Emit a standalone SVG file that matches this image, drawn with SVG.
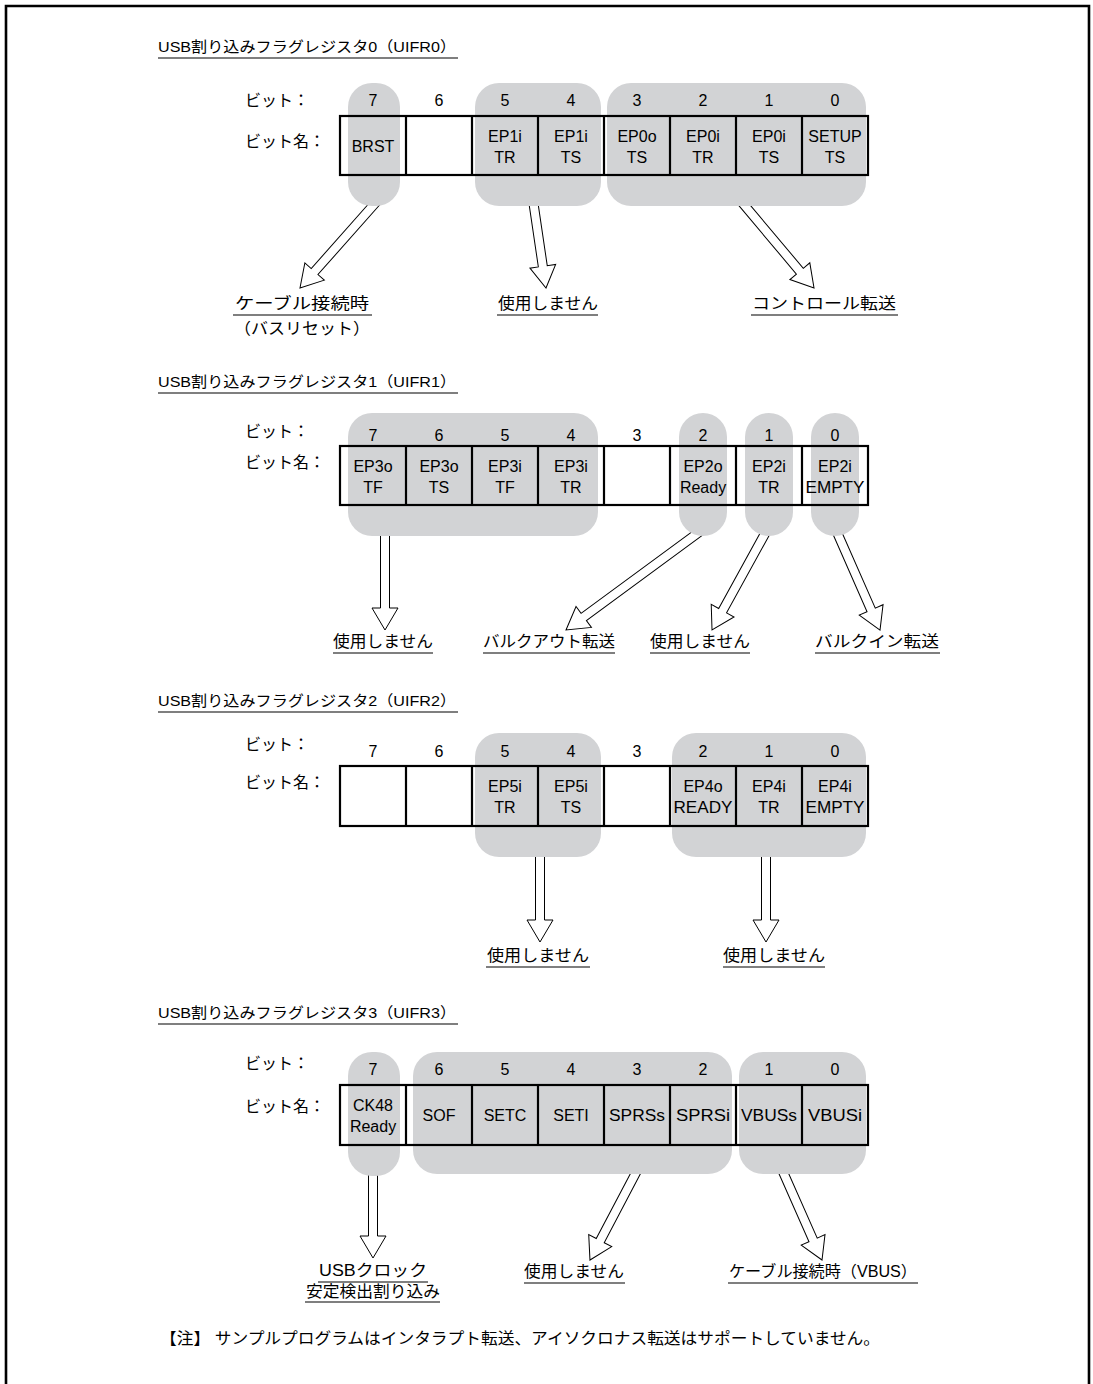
<svg xmlns="http://www.w3.org/2000/svg" width="1093" height="1384" viewBox="0 0 1093 1384">
<style>
text{font-family:"Liberation Sans","Noto Sans CJK JP",sans-serif;fill:#000}
.t{font-size:15px}
.lb{font-size:16px}
.c{font-size:16px;text-anchor:middle}
.bn{font-size:16px;text-anchor:middle}
.m{text-anchor:middle}
.pill{fill:#d2d3d5}
.box{fill:none;stroke:#000;stroke-width:2.2}
.ul{stroke:#000;stroke-width:1.2}
.arr{fill:#fff;stroke:#000;stroke-width:1}
</style>
<rect width="1093" height="1384" fill="#fff"/>
<path d="M6,1384 L6,6 L1089,6 L1089,1384" fill="none" stroke="#000" stroke-width="2.6"/>

<g id="connectors">
<path class="arr" transform="translate(378,200) rotate(41.55)" d="M-4.5,0 L-4.5,95.6 L-13,95.6 L0,117.6 L13,95.6 L4.5,95.6 L4.5,0"/>
<path class="arr" transform="translate(533,200) rotate(-8.4)" d="M-4.5,0 L-4.5,67 L-13,67 L0,89 L13,67 L4.5,67 L4.5,0"/>
<path class="arr" transform="translate(740,200) rotate(-40.06)" d="M-4.5,0 L-4.5,93 L-13,93 L0,115 L13,93 L4.5,93 L4.5,0"/>
<path class="arr" transform="translate(385,530)" d="M-4.5,0 L-4.5,78 L-13,78 L0,100 L13,78 L4.5,78 L4.5,0"/>
<path class="arr" transform="translate(702,530) rotate(53.67)" d="M-4.5,0 L-4.5,146.8 L-13,146.8 L0,168.8 L13,146.8 L4.5,146.8 L4.5,0"/>
<path class="arr" transform="translate(767,530) rotate(28.81)" d="M-4.5,0 L-4.5,92.1 L-13,92.1 L0,114.1 L13,92.1 L4.5,92.1 L4.5,0"/>
<path class="arr" transform="translate(836,530) rotate(-23.75)" d="M-4.5,0 L-4.5,87.3 L-13,87.3 L0,109.3 L13,87.3 L4.5,87.3 L4.5,0"/>
<path class="arr" transform="translate(540,850)" d="M-4.5,0 L-4.5,70 L-13,70 L0,92 L13,70 L4.5,70 L4.5,0"/>
<path class="arr" transform="translate(766,850)" d="M-4.5,0 L-4.5,70 L-13,70 L0,92 L13,70 L4.5,70 L4.5,0"/>
<path class="arr" transform="translate(373,1170)" d="M-4.5,0 L-4.5,66 L-13,66 L0,88 L13,66 L4.5,66 L4.5,0"/>
<path class="arr" transform="translate(640,1165) rotate(27.76)" d="M-4.5,0 L-4.5,85.4 L-13,85.4 L0,107.4 L13,85.4 L4.5,85.4 L4.5,0"/>
<path class="arr" transform="translate(780,1165) rotate(-23.85)" d="M-4.5,0 L-4.5,81.9 L-13,81.9 L0,103.9 L13,81.9 L4.5,81.9 L4.5,0"/>
</g>

<!-- Register 0 -->
<g id="uifr0">
<text class="t" x="158" y="52" textLength="298" lengthAdjust="spacingAndGlyphs">USB割り込みフラグレジスタ0（UIFR0）</text>
<line class="ul" x1="158" y1="58" x2="458" y2="58"/>
<text class="lb" x="245" y="106">ビット：</text>
<text class="lb" x="245" y="147">ビット名：</text>
<rect class="pill" x="348" y="83" width="52" height="123" rx="24"/>
<rect class="pill" x="475" y="83" width="126" height="123" rx="24"/>
<rect class="pill" x="607" y="83" width="259" height="123" rx="24"/>
<g class="bn"><text x="373" y="106">7</text><text x="439" y="106">6</text><text x="505" y="106">5</text><text x="571" y="106">4</text><text x="637" y="106">3</text><text x="703" y="106">2</text><text x="769" y="106">1</text><text x="835" y="106">0</text></g>
<rect class="box" x="340" y="116" width="528" height="59"/>
<path class="box" d="M406,116V175M472,116V175M538,116V175M604,116V175M670,116V175M736,116V175M802,116V175"/>
<g class="c">
<text x="373" y="152">BRST</text>
<text x="505" y="142">EP1i</text><text x="505" y="163">TR</text>
<text x="571" y="142">EP1i</text><text x="571" y="163">TS</text>
<text x="637" y="142">EP0o</text><text x="637" y="163">TS</text>
<text x="703" y="142">EP0i</text><text x="703" y="163">TR</text>
<text x="769" y="142">EP0i</text><text x="769" y="163">TS</text>
<text x="835" y="142">SETUP</text><text x="835" y="163">TS</text>
</g>
</g>
<g id="lbl0a"><text class="lb m" x="302" y="309" textLength="134" lengthAdjust="spacingAndGlyphs">ケーブル接続時</text><line class="ul" x1="233" y1="315" x2="372" y2="315"/><text class="lb m" x="302" y="334" textLength="136" lengthAdjust="spacingAndGlyphs">（バスリセット）</text></g>
<g id="lbl0b"><text class="lb m" x="548" y="309" textLength="100" lengthAdjust="spacingAndGlyphs">使用しません</text><line class="ul" x1="497" y1="315" x2="598" y2="315"/></g>
<g id="lbl0c"><text class="lb m" x="824" y="309" textLength="144" lengthAdjust="spacingAndGlyphs">コントロール転送</text><line class="ul" x1="751" y1="315" x2="898" y2="315"/></g>

<!-- Register 1 -->
<g id="uifr1">
<text class="t" x="158" y="387" textLength="298" lengthAdjust="spacingAndGlyphs">USB割り込みフラグレジスタ1（UIFR1）</text>
<line class="ul" x1="158" y1="393" x2="458" y2="393"/>
<text class="lb" x="245" y="437">ビット：</text>
<text class="lb" x="245" y="468">ビット名：</text>
<rect class="pill" x="348" y="413" width="250" height="123" rx="24"/>
<rect class="pill" x="679" y="413" width="48" height="123" rx="24"/>
<rect class="pill" x="745" y="413" width="48" height="123" rx="24"/>
<rect class="pill" x="811" y="413" width="48" height="123" rx="24"/>
<g class="bn"><text x="373" y="441">7</text><text x="439" y="441">6</text><text x="505" y="441">5</text><text x="571" y="441">4</text><text x="637" y="441">3</text><text x="703" y="441">2</text><text x="769" y="441">1</text><text x="835" y="441">0</text></g>
<rect class="box" x="340" y="446" width="528" height="59"/>
<path class="box" d="M406,446V505M472,446V505M538,446V505M604,446V505M670,446V505M736,446V505M802,446V505"/>
<g class="c">
<text x="373" y="472">EP3o</text><text x="373" y="493">TF</text>
<text x="439" y="472">EP3o</text><text x="439" y="493">TS</text>
<text x="505" y="472">EP3i</text><text x="505" y="493">TF</text>
<text x="571" y="472">EP3i</text><text x="571" y="493">TR</text>
<text x="703" y="472">EP2o</text><text x="703" y="493">Ready</text>
<text x="769" y="472">EP2i</text><text x="769" y="493">TR</text>
<text x="835" y="472">EP2i</text><text x="835" y="493" textLength="59" lengthAdjust="spacingAndGlyphs">EMPTY</text>
</g>
</g>
<g id="lbl1a"><text class="lb m" x="383" y="647" textLength="100" lengthAdjust="spacingAndGlyphs">使用しません</text><line class="ul" x1="333" y1="653" x2="433" y2="653"/></g>
<g id="lbl1b"><text class="lb m" x="549" y="647" textLength="132" lengthAdjust="spacingAndGlyphs">バルクアウト転送</text><line class="ul" x1="483" y1="653" x2="615" y2="653"/></g>
<g id="lbl1c"><text class="lb m" x="700" y="647" textLength="100" lengthAdjust="spacingAndGlyphs">使用しません</text><line class="ul" x1="650" y1="653" x2="750" y2="653"/></g>
<g id="lbl1d"><text class="lb m" x="877" y="647" textLength="124" lengthAdjust="spacingAndGlyphs">バルクイン転送</text><line class="ul" x1="815" y1="653" x2="940" y2="653"/></g>

<!-- Register 2 -->
<g id="uifr2">
<text class="t" x="158" y="706" textLength="298" lengthAdjust="spacingAndGlyphs">USB割り込みフラグレジスタ2（UIFR2）</text>
<line class="ul" x1="158" y1="712" x2="458" y2="712"/>
<text class="lb" x="245" y="750">ビット：</text>
<text class="lb" x="245" y="788">ビット名：</text>
<rect class="pill" x="475" y="733" width="126" height="124" rx="24"/>
<rect class="pill" x="672" y="733" width="194" height="124" rx="24"/>
<g class="bn"><text x="373" y="757">7</text><text x="439" y="757">6</text><text x="505" y="757">5</text><text x="571" y="757">4</text><text x="637" y="757">3</text><text x="703" y="757">2</text><text x="769" y="757">1</text><text x="835" y="757">0</text></g>
<rect class="box" x="340" y="766" width="528" height="60"/>
<path class="box" d="M406,766V826M472,766V826M538,766V826M604,766V826M670,766V826M736,766V826M802,766V826"/>
<g class="c">
<text x="505" y="792">EP5i</text><text x="505" y="813">TR</text>
<text x="571" y="792">EP5i</text><text x="571" y="813">TS</text>
<text x="703" y="792">EP4o</text><text x="703" y="813" textLength="59" lengthAdjust="spacingAndGlyphs">READY</text>
<text x="769" y="792">EP4i</text><text x="769" y="813">TR</text>
<text x="835" y="792">EP4i</text><text x="835" y="813" textLength="59" lengthAdjust="spacingAndGlyphs">EMPTY</text>
</g>
</g>
<g id="lbl2a"><text class="lb m" x="538" y="961" textLength="102" lengthAdjust="spacingAndGlyphs">使用しません</text><line class="ul" x1="486" y1="967" x2="590" y2="967"/></g>
<g id="lbl2b"><text class="lb m" x="774" y="961" textLength="102" lengthAdjust="spacingAndGlyphs">使用しません</text><line class="ul" x1="723" y1="967" x2="825" y2="967"/></g>

<!-- Register 3 -->
<g id="uifr3">
<text class="t" x="158" y="1018" textLength="298" lengthAdjust="spacingAndGlyphs">USB割り込みフラグレジスタ3（UIFR3）</text>
<line class="ul" x1="158" y1="1024" x2="458" y2="1024"/>
<text class="lb" x="245" y="1069">ビット：</text>
<text class="lb" x="245" y="1112">ビット名：</text>
<rect class="pill" x="348" y="1052" width="52" height="124" rx="24"/>
<rect class="pill" x="413" y="1052" width="319" height="122" rx="24"/>
<rect class="pill" x="739" y="1052" width="127" height="122" rx="24"/>
<g class="bn"><text x="373" y="1075">7</text><text x="439" y="1075">6</text><text x="505" y="1075">5</text><text x="571" y="1075">4</text><text x="637" y="1075">3</text><text x="703" y="1075">2</text><text x="769" y="1075">1</text><text x="835" y="1075">0</text></g>
<rect class="box" x="340" y="1085" width="528" height="60"/>
<path class="box" d="M406,1085V1145M472,1085V1145M538,1085V1145M604,1085V1145M670,1085V1145M736,1085V1145M802,1085V1145"/>
<g class="c">
<text x="373" y="1111">CK48</text><text x="373" y="1132">Ready</text>
<text x="439" y="1121">SOF</text>
<text x="505" y="1121">SETC</text>
<text x="571" y="1121">SETI</text>
<text x="637" y="1121" textLength="56" lengthAdjust="spacingAndGlyphs">SPRSs</text>
<text x="703" y="1121" textLength="54" lengthAdjust="spacingAndGlyphs">SPRSi</text>
<text x="769" y="1121" textLength="56" lengthAdjust="spacingAndGlyphs">VBUSs</text>
<text x="835" y="1121" textLength="54" lengthAdjust="spacingAndGlyphs">VBUSi</text>
</g>
</g>
<g id="lbl3a"><text class="lb m" x="373" y="1276" textLength="108" lengthAdjust="spacingAndGlyphs">USBクロック</text><line class="ul" x1="318" y1="1282" x2="428" y2="1282"/><text class="lb m" x="373" y="1297" textLength="134" lengthAdjust="spacingAndGlyphs">安定検出割り込み</text><line class="ul" x1="305" y1="1302" x2="440" y2="1302"/></g>
<g id="lbl3b"><text class="lb m" x="574" y="1277" textLength="100" lengthAdjust="spacingAndGlyphs">使用しません</text><line class="ul" x1="524" y1="1283" x2="625" y2="1283"/></g>
<g id="lbl3c"><text class="lb m" x="823" y="1277" textLength="188" lengthAdjust="spacingAndGlyphs">ケーブル接続時（VBUS）</text><line class="ul" x1="728" y1="1283" x2="918" y2="1283"/></g>

<g id="note"><text class="lb" x="160" y="1344" textLength="720" lengthAdjust="spacingAndGlyphs">【注】 サンプルプログラムはインタラプト転送、アイソクロナス転送はサポートしていません。</text></g>
</svg>
